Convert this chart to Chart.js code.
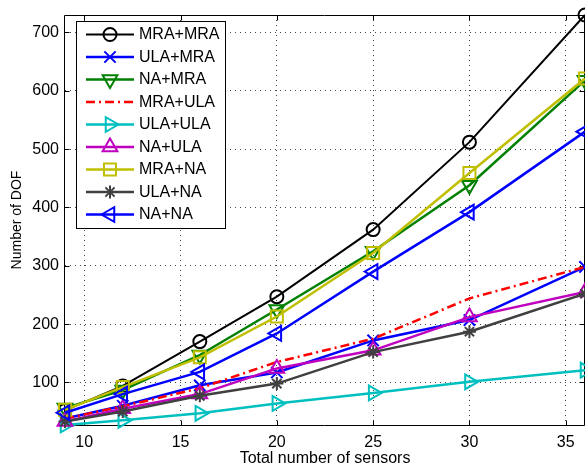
<!DOCTYPE html>
<html><head><meta charset="utf-8">
<script src="https://cdn.jsdelivr.net/npm/chart.js@4.4.1/dist/chart.umd.min.js"></script>
<style>html,body{margin:0;padding:0;background:#fff;}canvas{display:block;}</style>
</head><body>
<canvas id="c" width="585" height="467"></canvas>
<script>
// ---- data ----
const sensors = [9, 12, 16, 20, 25, 30, 36];
const seriesNames = ['MRA+MRA', 'ULA+MRA', 'NA+MRA', 'MRA+ULA', 'ULA+ULA', 'NA+ULA', 'MRA+NA', 'ULA+NA', 'NA+NA'];
const mraMra = [52, 94, 170, 247, 362, 512, 730];
const ulaMra = [38, 60, 95, 117, 172, 207, 298];
const naMra  = [56, 87, 147, 225, 325, 438, 618];
const mraUla = [38, 59, 90, 135, 175, 244, 298];
const ulaUla = [27, 35, 47, 64, 82, 101, 121];
const naUla  = [33, 55, 80, 124, 155, 212, 255];
const mraNa  = [53, 92, 143, 213, 322, 459, 621];
const ulaNa  = [33, 50, 77, 98, 152, 187, 252];
const naNa   = [48, 80, 118, 184, 290, 392, 530];
const seriesValues = [mraMra, ulaMra, naMra, mraUla, ulaUla, naUla, mraNa, ulaNa, naNa];
const xTicks = [10, 15, 20, 25, 30, 35];
const yTicks = [100, 200, 300, 400, 500, 600, 700];
const xTitle = 'Total number of sensors';
const yTitle = 'Number of DOF';

// ---- styles ----
const colors = ['#000000', '#0000FF', '#008000', '#FF0000', '#00BFBF', '#BF00BF', '#BFBF00', '#404040', '#0000FF'];
const markers = ['circle', 'crossRot', 'triangle', false, 'triangle', 'triangle', 'rect', 'star', 'triangle'];
const rotations = [0, 0, 180, 0, 90, 0, 0, 0, 270];
const radii = [6.5, 8, 8.5, 0, 8.5, 8.5, 8.5, 6.5, 8.5];
const widths = [2, 2.5, 2.5, 2.5, 2.5, 2.5, 2.5, 2.5, 2.5];
const dashes = [[], [], [], [9, 4, 2, 4], [], [], [], [], []];
const FONT = "'Liberation Sans', Arial, sans-serif";
Chart.defaults.font.family = FONT;
Chart.defaults.color = '#000';

const datasets = seriesNames.map((name, i) => ({
  label: name,
  data: sensors.map((x, j) => ({x: x, y: seriesValues[i][j]})),
  borderColor: colors[i],
  backgroundColor: 'rgba(0,0,0,0)',
  borderWidth: widths[i],
  borderDash: dashes[i],
  pointStyle: markers[i] || 'circle',
  pointRadius: markers[i] ? radii[i] : 0,
  pointRotation: rotations[i],
  pointBorderColor: colors[i],
  pointBackgroundColor: 'rgba(0,0,0,0)',
  pointBorderWidth: 2,
  fill: false,
  tension: 0,
  clip: false,
  order: seriesNames.length - i
}));

const framePlugin = {
  id: 'frame',
  beforeDatasetsDraw(chart) {
    const {ctx, chartArea: a, scales} = chart;
    ctx.save();
    ctx.strokeStyle = '#000';
    ctx.lineWidth = 1;
    ctx.beginPath();
    const L = Math.round(a.left) - 0.5, R = Math.round(a.right) - 0.5;
    const T = Math.round(a.top) + 0.5, B = Math.round(a.bottom) + 0.5;
    ctx.moveTo(L, T); ctx.lineTo(R, T); ctx.lineTo(R, B); ctx.lineTo(L, B); ctx.closePath();
    const tl = 5;
    scales.x.ticks.forEach(t => {
      const px = Math.round(scales.x.getPixelForValue(t.value)) + 0.5;
      ctx.moveTo(px, B); ctx.lineTo(px, B - tl);
      ctx.moveTo(px, T); ctx.lineTo(px, T + tl);
    });
    scales.y.ticks.forEach(t => {
      const py = Math.round(scales.y.getPixelForValue(t.value)) + 0.5;
      ctx.moveTo(L, py); ctx.lineTo(L + tl, py);
      ctx.moveTo(R, py); ctx.lineTo(R - tl, py);
    });
    ctx.stroke();
    ctx.restore();
  }
};

const legendPlugin = {
  id: 'matlabLegend',
  afterDraw(chart) {
    const ctx = chart.ctx;
    ctx.save();
    ctx.fillStyle = '#fff';
    ctx.strokeStyle = '#000';
    ctx.lineWidth = 1;
    ctx.fillRect(76.5, 21.5, 149, 207);
    ctx.strokeRect(76.5, 21.5, 149, 207);
    seriesNames.forEach((name, i) => {
      const y = 34.5 + i * 22.5;
      ctx.save();
      ctx.strokeStyle = colors[i];
      ctx.lineWidth = widths[i];
      ctx.setLineDash(dashes[i]);
      ctx.beginPath();
      ctx.moveTo(86, y); ctx.lineTo(134, y);
      ctx.stroke();
      ctx.setLineDash([]);
      if (markers[i]) {
        ctx.lineWidth = 2;
        ctx.fillStyle = 'rgba(0,0,0,0)';
        Chart.helpers.drawPoint(ctx, {pointStyle: markers[i], rotation: rotations[i], radius: radii[i], borderWidth: 2}, 110, y);
      }
      ctx.restore();
      ctx.fillStyle = '#000';
      ctx.font = '16px ' + FONT;
      ctx.textBaseline = 'middle';
      ctx.textAlign = 'left';
      ctx.fillText(name, 139, y + 0.5);
    });
    ctx.restore();
  }
};

new Chart(document.getElementById('c'), {
  type: 'line',
  data: {datasets},
  options: {
    responsive: false,
    animation: false,
    layout: {autoPadding: false, padding: {top: 15, right: 0, left: 0, bottom: 0}},
    plugins: {legend: {display: false}, tooltip: {enabled: false}},
    scales: {
      x: {
        type: 'linear', min: 9, max: 36,
        afterBuildTicks: s => { s.ticks = xTicks.map(v => ({value: v})); },
        afterFit: s => { s.height = 42; s.paddingLeft = 0; s.paddingRight = 0; },
        ticks: {font: {size: 16}, padding: 8, color: '#000', maxRotation: 0, autoSkip: false},
        grid: {color: '#444', lineWidth: 1, drawTicks: false},
        border: {display: false, dash: [1, 4]},
        title: {display: true, text: xTitle, font: {size: 16, lineHeight: 1}, padding: {top: 0, bottom: 0}, color: '#000'}
      },
      y: {
        type: 'linear', min: 27, max: 730,
        afterBuildTicks: s => { s.ticks = yTicks.map(v => ({value: v})); },
        afterFit: s => { s.width = 65; s.paddingTop = 0; s.paddingBottom = 0; },
        ticks: {font: {size: 16}, padding: 6, color: '#000', autoSkip: false},
        grid: {color: '#444', lineWidth: 1, drawTicks: false},
        border: {display: false, dash: [1, 4]},
        title: {display: true, text: yTitle, font: {size: 14, lineHeight: 1}, padding: {top: 10, bottom: 0}, color: '#000'}
      }
    }
  },
  plugins: [framePlugin, legendPlugin]
});
</script>
</body></html>
